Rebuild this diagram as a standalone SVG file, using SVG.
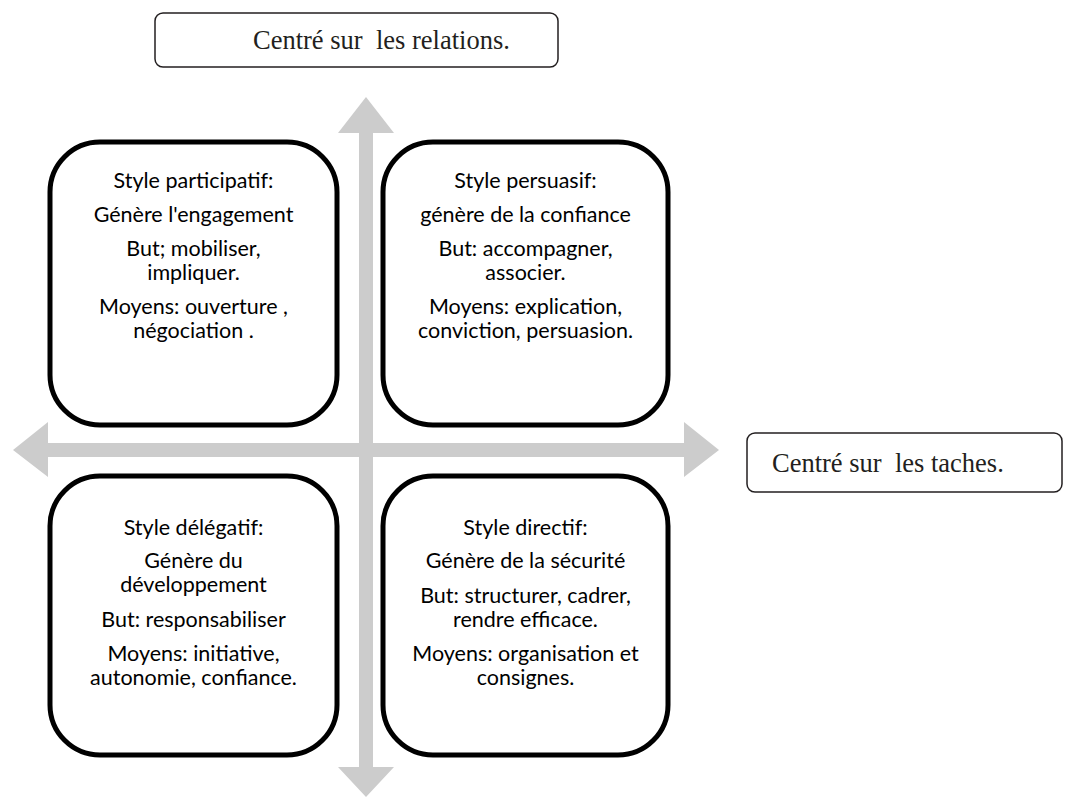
<svg xmlns="http://www.w3.org/2000/svg" width="1065" height="798" viewBox="0 0 1065 798">
  <style>
    .axis { fill: #cccccc; }
    .quad { fill: #ffffff; stroke: #000000; stroke-width: 5; }
    .quad-text { font-family: Lato, "Open Sans", sans-serif; font-size: 21.5px; fill: #000000; text-anchor: middle; }
    .label { fill: #ffffff; stroke: #231f20; stroke-width: 1.5; }
    .label-text { font-family: "Liberation Serif", serif; font-size: 26.5px; fill: #231f20; white-space: pre; }
  </style>

  <!-- axes -->
  <g id="connectors">
    <polygon class="axis" points="366,97 394,133 373,133 373,767 394,767 366,797 338,767 359,767 359,133 338,133"/>
    <polygon class="axis" points="13,450 48,422 48,443 684,443 684,422 719,450 684,477 684,457 48,457 48,477"/>
  </g>

  <!-- axis labels -->
  <g id="label-relations">
    <rect class="label" x="155" y="13" width="403" height="54" rx="8"/>
    <text class="label-text" x="253" y="49" xml:space="preserve">Centré sur  les relations.</text>
  </g>
  <g id="label-taches">
    <rect class="label" x="747" y="433" width="315" height="59" rx="8"/>
    <text class="label-text" x="772" y="472" xml:space="preserve">Centré sur  les taches.</text>
  </g>

  <!-- quadrants -->
  <g id="participatif">
    <rect class="quad" x="50" y="142" width="287" height="283" rx="50"/>
    <text class="quad-text" x="193.5" y="188">Style participatif:</text>
    <text class="quad-text" x="193.5" y="222">Génère l'engagement</text>
    <text class="quad-text" x="193.5" y="256">But; mobiliser,</text>
    <text class="quad-text" x="193.5" y="280">impliquer.</text>
    <text class="quad-text" x="193.5" y="314">Moyens: ouverture ,</text>
    <text class="quad-text" x="193.5" y="338">négociation .</text>
  </g>
  <g id="persuasif">
    <rect class="quad" x="383" y="142" width="285" height="283" rx="50"/>
    <text class="quad-text" x="525.5" y="188">Style persuasif:</text>
    <text class="quad-text" x="525.5" y="222">génère de la confiance</text>
    <text class="quad-text" x="525.5" y="256">But: accompagner,</text>
    <text class="quad-text" x="525.5" y="280">associer.</text>
    <text class="quad-text" x="525.5" y="314">Moyens: explication,</text>
    <text class="quad-text" x="525.5" y="338">conviction, persuasion.</text>
  </g>
  <g id="delegatif">
    <rect class="quad" x="50" y="476" width="287" height="279" rx="50"/>
    <text class="quad-text" x="193.5" y="535">Style délégatif:</text>
    <text class="quad-text" x="193.5" y="568">Génère du</text>
    <text class="quad-text" x="193.5" y="592">développement</text>
    <text class="quad-text" x="193.5" y="627">But: responsabiliser</text>
    <text class="quad-text" x="193.5" y="661">Moyens: initiative,</text>
    <text class="quad-text" x="193.5" y="685">autonomie, confiance.</text>
  </g>
  <g id="directif">
    <rect class="quad" x="383" y="476" width="285" height="279" rx="50"/>
    <text class="quad-text" x="525.5" y="535">Style directif:</text>
    <text class="quad-text" x="525.5" y="568">Génère de la sécurité</text>
    <text class="quad-text" x="525.5" y="603">But: structurer, cadrer,</text>
    <text class="quad-text" x="525.5" y="627">rendre efficace.</text>
    <text class="quad-text" x="525.5" y="661">Moyens: organisation et</text>
    <text class="quad-text" x="525.5" y="685">consignes.</text>
  </g>
</svg>
